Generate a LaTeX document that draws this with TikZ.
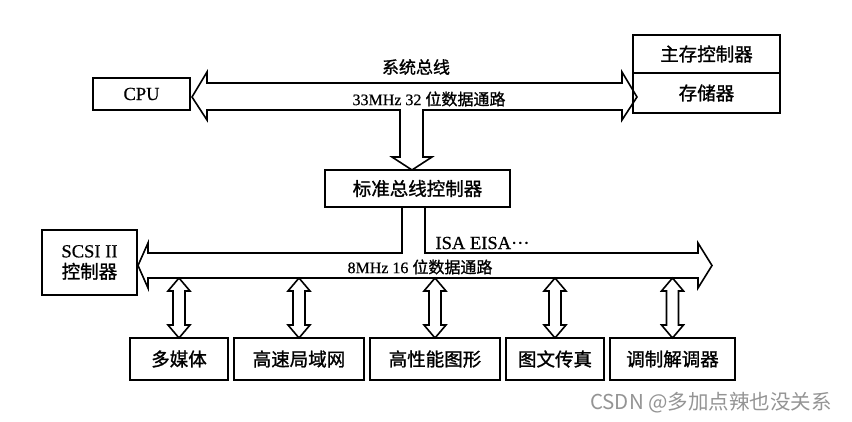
\documentclass[tikz,border=0pt]{standalone}
\usepackage{fontspec}
\setmainfont{Liberation Serif}[FakeBold=0.6]
\newfontfamily\cjk{Noto Sans CJK SC}[FakeBold=1.2]
\newfontfamily\markfont{Noto Sans CJK SC}
\usetikzlibrary{positioning}

\newcommand\boxfont{\fontsize{18.5}{21}\selectfont}
\newcommand\busfont{\fontsize{16}{18}\selectfont}

\tikzset{
  box/.style={draw, line width=1.6pt, outer sep=0pt, inner sep=0pt, font=\boxfont},
  unit/.style={box, minimum height=42pt},
  bus/.style={line width=1.6pt, line join=miter},
  updown/.pic={
    \draw[bus] (0,0) -- (-11,-13) -- (-6,-13) -- (-6,-47) -- (-11,-47) -- (0,-60)
      -- (11,-47) -- (6,-47) -- (6,-13) -- (11,-13) -- cycle;
  }
}

\begin{document}
\begin{tikzpicture}[x=1pt,y=-1pt]
\useasboundingbox (0,0) rectangle (852,422);

\node[box, minimum width=97pt, minimum height=32pt] (cpu) at (141.5,94) {CPU};
\node[box, minimum width=147pt, minimum height=38pt] (mctl) at (706.5,54) {\cjk 主存控制器};
\node[box, minimum width=147pt, minimum height=40pt, below=0pt of mctl] (mem) {\cjk 存储器};
\node[box, minimum width=185pt, minimum height=37pt] (bctl) at (417.5,188.5) {\cjk 标准总线控制器};
\node[box, minimum width=95pt, minimum height=65pt, align=center] (scsi) at (89.5,262.5) {SCSI II\\{\cjk 控制器}};

% devices on the 16 bit bus
\node[unit, minimum width=98pt] (media) at (179,359) {\cjk 多媒体};
\node[unit, minimum width=130pt, right=6pt of media] (lan) {\cjk 高速局域网};
\node[unit, minimum width=130pt, right=6pt of lan] (gfx) {\cjk 高性能图形};
\node[unit, minimum width=98pt, right=6pt of gfx] (fax) {\cjk 图文传真};
\node[unit, minimum width=125pt, right=6pt of fax] (modem) {\cjk 调制解调器};

% system bus
\draw[bus] (192,97) -- (207,72) -- (207,83) -- (622,83) -- (622,72) -- (637,97)
  -- (622,120) -- (622,110) -- (423,110) -- (423,157) -- (432,157) -- (412,170)
  -- (392,157) -- (400,157) -- (400,110) -- (207,110) -- (207,120) -- cycle;
\node[font=\cjk\fontsize{17}{19}\selectfont] (sysname) at (416,67) {系统总线};
\node[font=\busfont] (syspath) at (429,99) {33MHz 32 {\cjk 位数据通路}};

% ISA bus
\draw[bus] (402,207) -- (402,253) -- (148,253) -- (148,243) -- (138,265.5)
  -- (148,288) -- (148,278) -- (698,278) -- (698,288) -- (712,265.5)
  -- (698,243) -- (698,253) -- (425,253) -- (425,207);
\node[anchor=west, font=\boxfont] (isa) at (432,243) {ISA EISA\textperiodcentered\textperiodcentered\textperiodcentered};
\node[font=\busfont] (isapath) at (420,267) {8MHz 16 {\cjk 位数据通路}};

\foreach \d in {media,lan,gfx,fax,modem}
  \pic at (\d.north) {updown};

\node[font=\markfont\fontsize{20.5}{22}\selectfont, text=black!42] (mark) at (711,403) {CSDN @多加点辣也没关系};
\end{tikzpicture}
\end{document}
